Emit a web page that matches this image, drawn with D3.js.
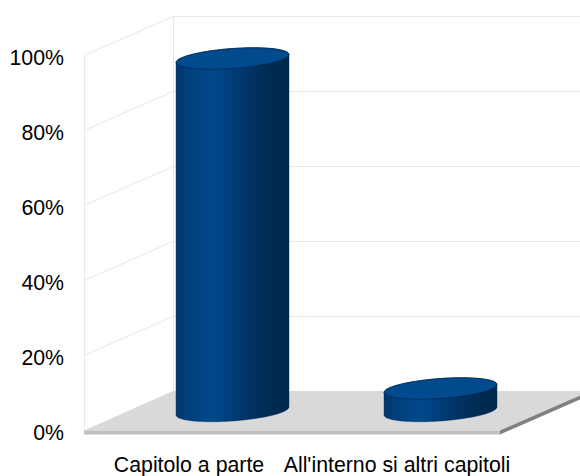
<!DOCTYPE html>
<html><head><meta charset="utf-8"><style>html,body{margin:0;background:#fff}svg{display:block}text{font-family:"Liberation Sans",Arial,sans-serif;fill:#000}</style>
<script src="https://cdn.jsdelivr.net/npm/d3@7"></script></head><body><div id="c"></div>
<script>
const categories = ["Capitolo a parte", "All'interno si altri capitoli"];
const values = [94, 6];
const tickValues = [0, 20, 40, 60, 80, 100];
const bandShades = ["#003a73","#003e7c","#00437f","#004587","#004689","#004486","#003f7c","#003a72","#003569","#003161","#002e5a","#002b54","#002950","#00284d"];
const W=580,H=476, dx=89, dy=-39;
const svg=d3.select("#c").append("svg").attr("width",W).attr("height",H);
const y=d3.scaleLinear().domain([0,100]).range([430.5,55.5]);
const x=d3.scaleBand().domain(categories).range([84,500]).paddingInner(0.46).paddingOuter(0.23);
const grid="#e8e8e8";
const defs=svg.append("defs");
const grad=defs.append("linearGradient").attr("id","cyl");
bandShades.forEach((c,i)=>{const n=bandShades.length;
  grad.append("stop").attr("offset",i/n).attr("stop-color",c);
  grad.append("stop").attr("offset",(i+1)/n).attr("stop-color",c);});
svg.append("path").attr("fill","#d9d9d9").attr("d",`M84,430.5L${84+dx},${430+dy}L${590},${430+dy}L500,430.5Z`);
svg.append("path").attr("fill","#c0c0c0").attr("d","M84,430.5H500V434.5H84Z");
svg.append("path").attr("fill","#808080").attr("d",`M500,430.5L590,${430+dy}V${434+dy}L500,434.5Z`);
tickValues.forEach(t=>{
  if(t>0){svg.append("line").attr("x1",84+dx).attr("x2",W).attr("y1",y(t)+dy).attr("y2",y(t)+dy).attr("stroke",grid);
  svg.append("line").attr("x1",84).attr("x2",84+dx).attr("y1",y(t)).attr("y2",y(t)+dy).attr("stroke",grid);}
});
svg.append("line").attr("x1",84.5).attr("x2",84.5).attr("y1",y(100)).attr("y2",y(0)).attr("stroke",grid);
svg.append("line").attr("x1",173.5).attr("x2",173.5).attr("y1",y(100)+dy).attr("y2",y(0)+dy).attr("stroke",grid);
const ax=d3.axisLeft(y).tickValues(tickValues).tickFormat(d=>d+"%").tickSize(0).tickPadding(0);
const gA=svg.append("g").attr("transform","translate(64,2)").call(ax);
gA.select(".domain").remove();
gA.selectAll("text").style("font-size","21.3px").style("font-family","'Liberation Sans',Arial,sans-serif").attr("dy","0.32em");
const a=56.5,b=10,tilt=4;
const pt=(cx,cy,t)=>[cx+a*Math.cos(t),cy-tilt*Math.cos(t)+b*Math.sin(t)];
const arc=(cx,cy,from,to)=>d3.range(0,41).map(i=>pt(cx,cy,from+(to-from)*i/40));
const line=d3.line();
categories.forEach((c,i)=>{
  const cx=x(c)+x.bandwidth()/2+dx/2, base=y(0)+dy/2, top=y(values[i])+dy/2;
  const side=arc(cx,base,0,Math.PI).concat(arc(cx,top,Math.PI,2*Math.PI));
  svg.append("path").attr("d",line(side)+"Z").attr("fill","url(#cyl)").attr("stroke","#002a50").attr("stroke-width",0.4);
  svg.append("path").attr("d",line(arc(cx,top,0,2*Math.PI))+"Z").attr("fill","#004a8d").attr("stroke","#00254a").attr("stroke-width",0.7);
  svg.append("text").attr("x",x(c)+x.bandwidth()/2+1).attr("y",472).attr("text-anchor","middle").style("font-size","21.3px").text(c);
});
</script></body></html>
